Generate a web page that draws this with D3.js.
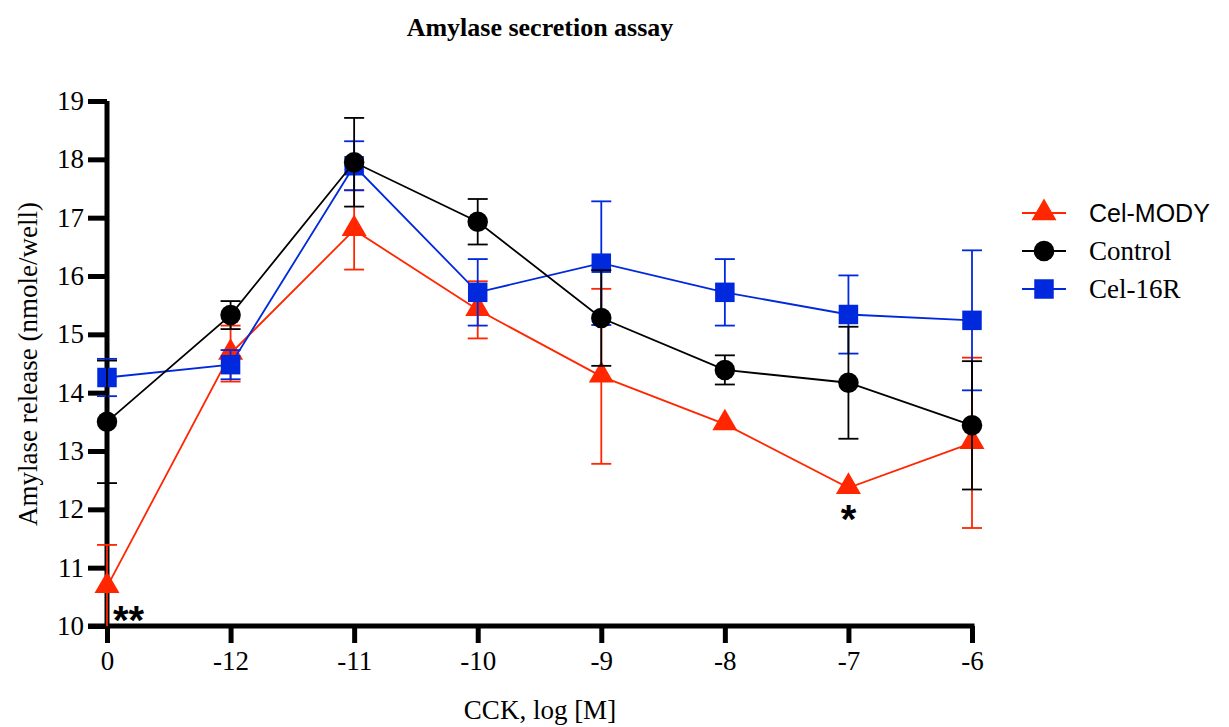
<!DOCTYPE html>
<html>
<head>
<meta charset="utf-8">
<script src="https://cdn.jsdelivr.net/npm/d3@7"></script>
<style>
  body { margin: 0; background: #fff; }
  svg text { font-family: "Liberation Serif", "Times New Roman", serif; fill: #000; }
</style>
</head>
<body>
<svg id="chart" width="1229" height="727"></svg>
<script>
// doses on the x axis (0 = basal, then log [M])
const categories = ["0", "-12", "-11", "-10", "-9", "-8", "-7", "-6"];

const celMody    = [10.67, 14.67, 16.79, 15.42, 14.28, 13.46, 12.37, 13.14];
const celModyErr = [0.72, 0.48, 0.68, 0.49, 1.50, 0, 0, 1.46];

const control    = [13.50, 15.33, 17.95, 16.93, 15.28, 14.39, 14.17, 13.44];
const controlErr = [1.05, 0.24, 0.76, 0.39, 0.82, 0.25, 0.96, 1.10];

const cel16R     = [14.26, 14.48, 17.89, 15.72, 16.22, 15.72, 15.34, 15.24];
const cel16RErr  = [0.32, 0.25, 0.42, 0.57, 1.06, 0.57, 0.67, 1.20];

const yTicks = [10, 11, 12, 13, 14, 15, 16, 17, 18, 19];

// significance marks: [category, label]
const sigMarks = [["0", "**"], ["-7", "*"]];

const series = [
  { name: "Cel-MODY", values: celMody, err: celModyErr, color: "#ff2600", shape: d3.symbolTriangle, font: "Liberation Sans, Arial, sans-serif" },
  { name: "Control", values: control, err: controlErr, color: "#000000", shape: d3.symbolCircle, font: null },
  { name: "Cel-16R", values: cel16R, err: cel16RErr, color: "#0029dd", shape: d3.symbolSquare, font: null }
];

const symSize = s => s.shape === d3.symbolTriangle ? 270 : (s.shape === d3.symbolSquare ? 380 : 330);

const svg = d3.select("#chart");

const x = d3.scalePoint().domain(categories).range([107, 972]);
const y = d3.scaleLinear().domain([10, 19]).range([626, 101]);

// title
svg.append("text")
  .attr("x", 540).attr("y", 36)
  .attr("text-anchor", "middle")
  .style("font-weight", "bold")
  .style("font-size", "26px")
  .text("Amylase secretion assay");

// axes
const yAxis = svg.append("g")
  .attr("transform", "translate(107,0)")
  .call(d3.axisLeft(y).tickValues(yTicks).tickFormat(d3.format("d")).tickSize(19).tickPadding(4));
yAxis.select(".domain").attr("stroke-width", 5).attr("d", `M0,${y(19)}V${y(10)}`);
yAxis.selectAll(".tick line").attr("stroke-width", 5);
yAxis.selectAll(".tick text").style("font-size", "27px").attr("font-family", null);

const xAxis = svg.append("g")
  .attr("transform", `translate(0,${y(10)})`)
  .call(d3.axisBottom(x).tickSize(17).tickPadding(8));
xAxis.select(".domain").attr("stroke-width", 5).attr("d", `M88,0H${x("-6") + 2.5}`);
xAxis.selectAll(".tick line").attr("stroke-width", 5);
xAxis.selectAll(".tick text").style("font-size", "27px").attr("font-family", null);

// axis titles
svg.append("text")
  .attr("x", 540).attr("y", 719)
  .attr("text-anchor", "middle")
  .style("font-size", "27px")
  .text("CCK, log [M]");

svg.append("text")
  .attr("transform", "translate(37,364) rotate(-90)")
  .attr("text-anchor", "middle")
  .style("font-size", "27px")
  .text("Amylase release (nmole/well)");

// draw series: red underneath, then blue, black on top
const order = [series[0], series[2], series[1]];
const line = d3.line().x((d, i) => x(categories[i])).y(d => y(d));
const capW = 10;

order.forEach(s => {
  const g = svg.append("g");
  const color = s.color;

  // error bars
  s.values.forEach((v, i) => {
    const e = s.err[i];
    if (!e) return;
    const cx = x(categories[i]);
    const hi = v + e;
    const lo = Math.max(v - e, 10);
    g.append("line")
      .attr("x1", cx).attr("x2", cx)
      .attr("y1", y(hi)).attr("y2", y(lo))
      .attr("stroke", color).attr("stroke-width", 1.8);
    g.append("line")
      .attr("x1", cx - capW).attr("x2", cx + capW)
      .attr("y1", y(hi)).attr("y2", y(hi))
      .attr("stroke", color).attr("stroke-width", 1.8);
    if (v - e > 10) {
      g.append("line")
        .attr("x1", cx - capW).attr("x2", cx + capW)
        .attr("y1", y(lo)).attr("y2", y(lo))
        .attr("stroke", color).attr("stroke-width", 1.8);
    }
  });

  g.append("path")
    .attr("d", line(s.values))
    .attr("fill", "none")
    .attr("stroke", color)
    .attr("stroke-width", 1.8);

  g.selectAll("path.pt")
    .data(s.values)
    .enter()
    .append("path")
    .attr("class", "pt")
    .attr("transform", (d, i) => `translate(${x(categories[i])},${y(d) + (s.shape === d3.symbolTriangle ? -1 : 0)})`)
    .attr("d", d3.symbol().type(s.shape).size(symSize(s)))
    .attr("fill", color);
});

// significance asterisks
sigMarks.forEach(([cat, label]) => {
  const i = categories.indexOf(cat);
  const t = svg.append("text")
    .style("font-family", "Liberation Sans, Arial, sans-serif")
    .style("font-weight", "bold")
    .style("font-size", "40px")
    .text(label);
  if (label === "**") {
    t.attr("x", x(cat) + 6).attr("y", y(10) + 8).attr("text-anchor", "start");
  } else {
    t.attr("x", x(cat)).attr("y", y(celMody[i]) + 45).attr("text-anchor", "middle");
  }
});

// legend
const legend = svg.append("g").attr("transform", "translate(1022,213)");
series.forEach((s, i) => {
  const row = legend.append("g").attr("transform", `translate(0,${i * 38})`);
  row.append("line")
    .attr("x1", 0).attr("x2", 44)
    .attr("stroke", s.color).attr("stroke-width", 1.8);
  row.append("path")
    .attr("transform", "translate(22,0)")
    .attr("d", d3.symbol().type(s.shape).size(symSize(s)))
    .attr("fill", s.color);
  const t = row.append("text")
    .attr("x", 67).attr("y", 9)
    .style("font-size", "27px")
    .text(s.name);
  if (s.font) t.style("font-family", s.font).style("font-size", "25px");
});
</script>
</body>
</html>
